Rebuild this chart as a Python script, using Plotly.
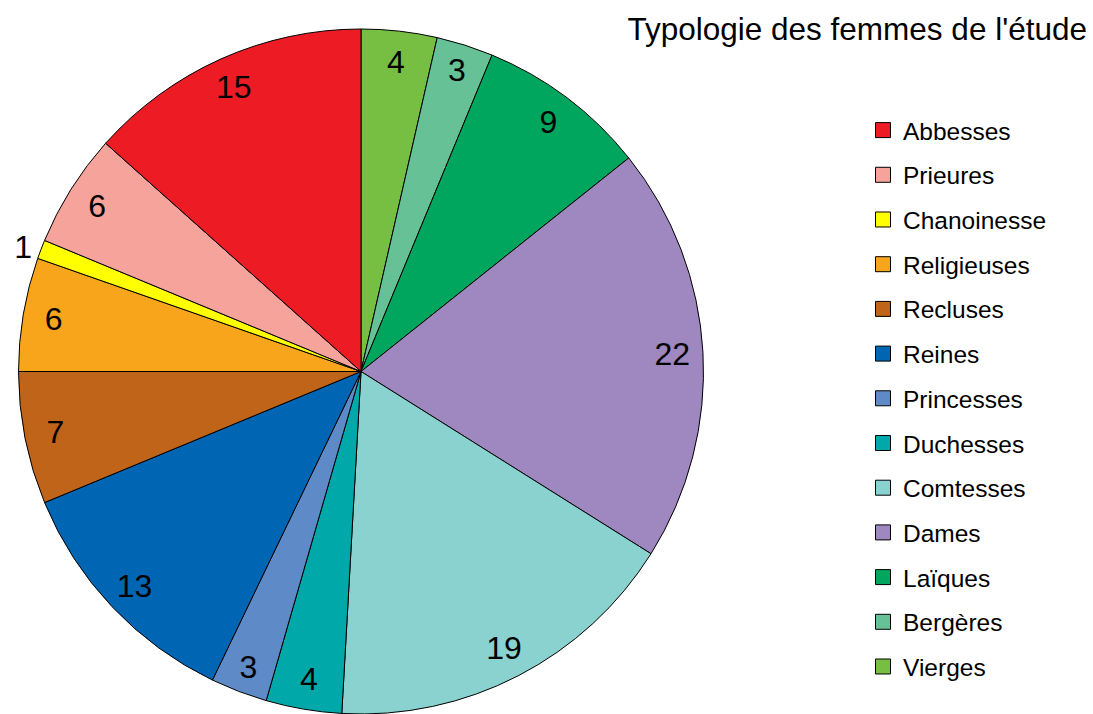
import plotly.graph_objects as go

labels = ["Abbesses", "Prieures", "Chanoinesse", "Religieuses", "Recluses", "Reines",
          "Princesses", "Duchesses", "Comtesses", "Dames", "Laïques", "Bergères", "Vierges"]
values = [15, 6, 1, 6, 7, 13, 3, 4, 19, 22, 9, 3, 4]
colors = ["#ED1C24", "#F6A39B", "#FFFF00", "#F8A51C", "#C06419", "#0066B3",
          "#5E8AC7", "#00A8AA", "#89D2D0", "#9E88BF", "#00A65D", "#66C296", "#77BF43"]
title = "Typologie des femmes de l'étude"

W, H = 1093, 714
FONT = "Liberation Sans, Arial, sans-serif"
dom_x = [0, 722 / W]
dom_y = [0, 1]

# slices run clockwise from 12 o'clock starting with the last category
pie_labels = labels[::-1]
pie_values = values[::-1]
pie_colors = colors[::-1]

fig = go.Figure()

# the pie itself
fig.add_trace(go.Pie(
    labels=pie_labels, values=pie_values, sort=False, direction="clockwise", rotation=0,
    marker=dict(colors=pie_colors, line=dict(color="black", width=1)),
    textinfo="none", showlegend=False, domain=dict(x=dom_x, y=dom_y), hoverinfo="label+value",
))

# transparent ring on top, only used to put the value labels near the edge
textpos = ["outside" if v < 2 else "inside" for v in pie_values]
fig.add_trace(go.Pie(
    labels=pie_labels, values=pie_values, sort=False, direction="clockwise", rotation=0,
    hole=0.82, marker=dict(colors=["rgba(0,0,0,0)"] * len(values), line=dict(width=0)),
    textinfo="value", textposition=textpos, insidetextorientation="horizontal",
    textfont=dict(family=FONT, size=32, color="black"),
    showlegend=False, domain=dict(x=dom_x, y=dom_y), hoverinfo="skip",
))

# legend entries
for lab, col in zip(labels, colors):
    fig.add_trace(go.Scatter(
        x=[None], y=[None], mode="markers", name=lab, legendgroup=lab,
        marker=dict(symbol="square", size=15, color=col, line=dict(color="black", width=1)),
    ))

fig.update_layout(
    width=W, height=H,
    margin=dict(l=0, r=0, t=29, b=0, autoexpand=False),
    paper_bgcolor="white", plot_bgcolor="white",
    font=dict(family=FONT, color="black"),
    title=dict(text=title, font=dict(family=FONT, size=31.5, color="black"),
               xref="container", yref="container", x=1087 / W, xanchor="right",
               y=1 - 29 / H, yanchor="middle"),
    xaxis=dict(visible=False), yaxis=dict(visible=False),
    legend=dict(x=863 / W, xanchor="left", y=1 - 82 / H, yanchor="top",
                font=dict(family=FONT, size=24.5, color="black"),
                tracegroupgap=9.85, bgcolor="rgba(0,0,0,0)"),
)

fig.write_html("out.html", config={"displayModeBar": False},
               post_script="document.body.style.margin='0';")
